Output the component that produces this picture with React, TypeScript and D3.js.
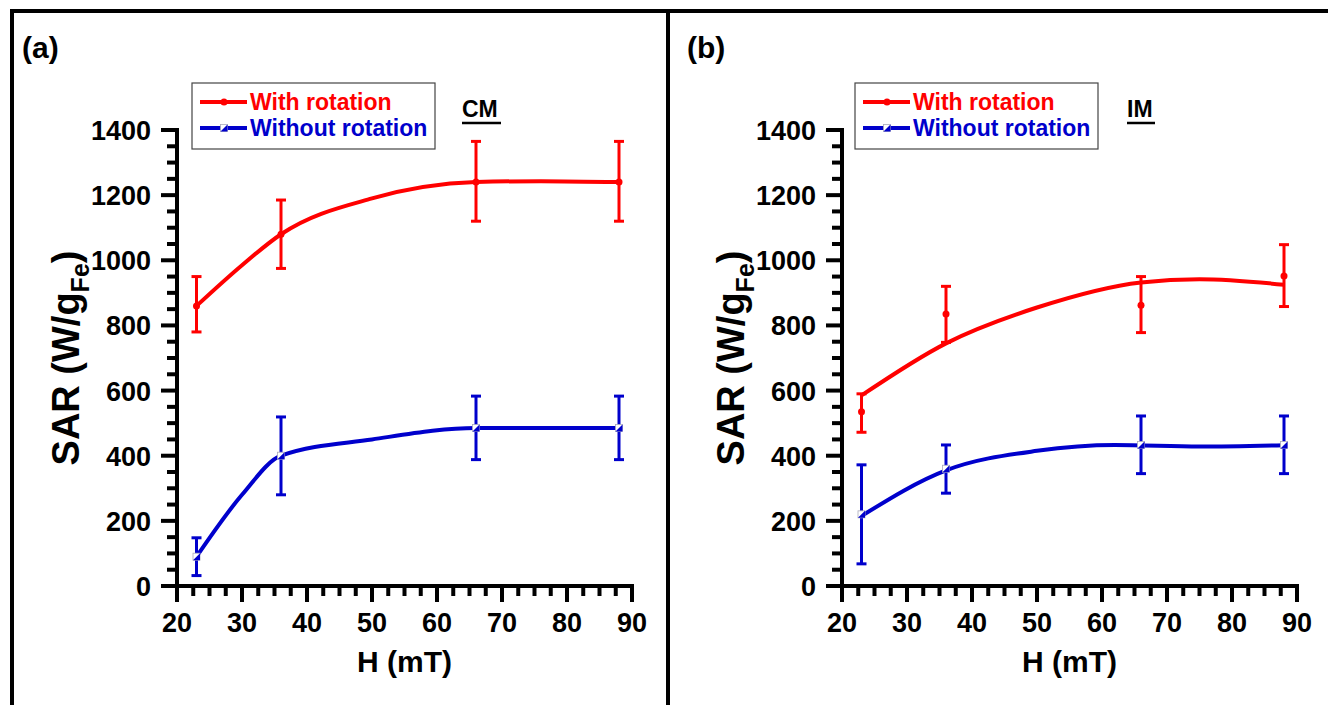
import React from "react";
import * as d3 from "d3";

// ---- data ----
const H = [23, 36, 66, 88];

// Panel (a) CM
const rotA = [860, 1080, 1240, 1240];
const rotALo = [780, 975, 1120, 1120];
const rotAHi = [950, 1185, 1365, 1365];
const noRotA = [90, 400, 485, 485];
const noRotALo = [32, 280, 388, 388];
const noRotAHi = [148, 519, 583, 583];
const fitRotAH = [23, 30, 36, 50, 66, 76, 88];
const fitRotAV = [860, 985, 1080, 1190, 1240, 1243, 1240];
const fitNoRotAH = [23, 30, 36, 50, 66, 88];
const fitNoRotAV = [90, 280, 400, 450, 485, 485];

// Panel (b) IM
const rotB = [535, 835, 862, 952];
const rotBLo = [472, 748, 778, 858];
const rotBHi = [590, 920, 950, 1048];
const noRotB = [220, 360, 433, 433];
const noRotBLo = [68, 285, 345, 345];
const noRotBHi = [372, 433, 522, 522];
const fitRotBH = [23, 36, 50, 66, 75, 88];
const fitRotBV = [585, 745, 855, 932, 942, 925];
const fitNoRotBH = [23, 36, 50, 62, 75, 88];
const fitNoRotBV = [215, 355, 415, 433, 428, 432];

const xMajor = [20, 30, 40, 50, 60, 70, 80, 90];
const yMajor = [0, 200, 400, 600, 800, 1000, 1200, 1400];
const legendLabels = ["With rotation", "Without rotation"];

const RED = "#ff0000";
const BLUE = "#0000cc";
const FONT = "Arial, 'Liberation Sans', sans-serif";

type Series = {
  v: number[]; lo: number[]; hi: number[];
  fh: number[]; fv: number[]; color: string; marker: "circle" | "square";
};

function Marker({ x, y, kind, color }: { x: number; y: number; kind: string; color: string }) {
  if (kind === "circle") return <circle cx={x} cy={y} r={3.5} fill={color} />;
  return (
    <g>
      <rect x={x - 3.5} y={y - 3.5} width={7} height={7} fill="#ffffff" stroke="#aab" strokeWidth={0.8} />
      <path d={`M${x + 3.5},${y - 3.5} L${x + 3.5},${y + 3.5} L${x - 3.5},${y + 3.5} Z`} fill={color} />
    </g>
  );
}

function Panel({ x0, label, tag, tagX, legendX, series }: {
  x0: number; label: string; tag: string; tagX: number; legendX: number; series: Series[];
}) {
  const x = d3.scaleLinear().domain([20, 90]).range([x0, x0 + 455]);
  const y = d3.scaleLinear().domain([0, 1400]).range([586, 130]);
  const xMinor = d3.range(20, 90.01, 2.5).filter((t) => !xMajor.includes(t));
  const yMinor = d3.range(0, 1400.01, 50).filter((t) => !yMajor.includes(t));
  const line = d3.line<[number, number]>().x((d) => x(d[0])).y((d) => y(d[1])).curve(d3.curveMonotoneX);
  const y0 = y(0);
  const x1 = x(90);
  return (
    <g>
      <text x={x0 - 155} y={58} fontFamily={FONT} fontWeight="bold" fontSize={30}>{label}</text>
      {/* axes */}
      <line x1={x0} y1={y(1400)} x2={x0} y2={y0} stroke="#000" strokeWidth={4} strokeLinecap="square" />
      <line x1={x0} y1={y0} x2={x1} y2={y0} stroke="#000" strokeWidth={4} strokeLinecap="square" />
      {xMajor.map((t) => (
        <g key={"xm" + t}>
          <line x1={x(t)} x2={x(t)} y1={y0} y2={y0 + 16} stroke="#000" strokeWidth={4} />
          <text x={x(t)} y={y0 + 46} textAnchor="middle" fontFamily={FONT} fontWeight="bold" fontSize={27}>{t}</text>
        </g>
      ))}
      {xMinor.map((t) => (
        <line key={"xn" + t} x1={x(t)} x2={x(t)} y1={y0} y2={y0 + 10} stroke="#000" strokeWidth={4} />
      ))}
      {yMajor.map((t) => (
        <g key={"ym" + t}>
          <line x1={x0 - 16} x2={x0} y1={y(t)} y2={y(t)} stroke="#000" strokeWidth={4} />
          <text x={x0 - 26} y={y(t) + 10} textAnchor="end" fontFamily={FONT} fontWeight="bold" fontSize={27}>{t}</text>
        </g>
      ))}
      {yMinor.map((t) => (
        <line key={"yn" + t} x1={x0 - 10} x2={x0} y1={y(t)} y2={y(t)} stroke="#000" strokeWidth={4} />
      ))}
      <text x={(x0 + x1) / 2} y={672} textAnchor="middle" fontFamily={FONT} fontWeight="bold" fontSize={30}>H (mT)</text>
      <text transform={`translate(${x0 - 98},${(y(0) + y(1400)) / 2}) rotate(-90)`} textAnchor="middle"
        fontFamily={FONT} fontWeight="bold" fontSize={38}>
        SAR (W/g<tspan fontSize={25} dy={10}>Fe</tspan><tspan dy={-10}>)</tspan>
      </text>
      {/* series */}
      {series.map((s, si) => (
        <g key={"s" + si}>
          <path d={line(s.fh.map((h, i) => [h, s.fv[i]] as [number, number])) || ""} fill="none" stroke={s.color} strokeWidth={4} />
          {H.map((h, i) => (
            <g key={i}>
              <line x1={x(h)} x2={x(h)} y1={y(s.lo[i])} y2={y(s.hi[i])} stroke={s.color} strokeWidth={3} />
              <line x1={x(h) - 5} x2={x(h) + 5} y1={y(s.lo[i])} y2={y(s.lo[i])} stroke={s.color} strokeWidth={3} />
              <line x1={x(h) - 5} x2={x(h) + 5} y1={y(s.hi[i])} y2={y(s.hi[i])} stroke={s.color} strokeWidth={3} />
              <Marker x={x(h)} y={y(s.v[i])} kind={s.marker} color={s.color} />
            </g>
          ))}
        </g>
      ))}
      {/* legend */}
      <rect x={legendX} y={83} width={243} height={66} fill="#fff" stroke="#444" strokeWidth={1.2} />
      {series.map((s, si) => (
        <g key={"l" + si}>
          <line x1={legendX + 8} x2={legendX + 55} y1={102 + si * 26} y2={102 + si * 26} stroke={s.color} strokeWidth={4} />
          <Marker x={legendX + 32} y={102 + si * 26} kind={s.marker} color={s.color} />
          <text x={legendX + 58} y={110 + si * 26} fill={s.color} fontFamily={FONT} fontWeight="bold" fontSize={23}>{legendLabels[si]}</text>
        </g>
      ))}
      <text x={tagX} y={117} fontFamily={FONT} fontWeight="bold" fontSize={23}>{tag}</text>
      <line x1={tagX} x2={tagX + (tag === "CM" ? 39 : 28)} y1={123} y2={123} stroke="#000" strokeWidth={2.5} />
    </g>
  );
}

export default function App() {
  const seriesA: Series[] = [
    { v: rotA, lo: rotALo, hi: rotAHi, fh: fitRotAH, fv: fitRotAV, color: RED, marker: "circle" },
    { v: noRotA, lo: noRotALo, hi: noRotAHi, fh: fitNoRotAH, fv: fitNoRotAV, color: BLUE, marker: "square" },
  ];
  const seriesB: Series[] = [
    { v: rotB, lo: rotBLo, hi: rotBHi, fh: fitRotBH, fv: fitRotBV, color: RED, marker: "circle" },
    { v: noRotB, lo: noRotBLo, hi: noRotBHi, fh: fitNoRotBH, fv: fitNoRotBV, color: BLUE, marker: "square" },
  ];
  return (
    <svg width={1328} height={705} style={{ position: "absolute", left: 0, top: 0, background: "#fff" }}>
      <rect x={0} y={0} width={1328} height={705} fill="#fff" />
      <line x1={10} x2={1328} y1={11} y2={11} stroke="#000" strokeWidth={4} />
      <line x1={12} x2={12} y1={9} y2={705} stroke="#000" strokeWidth={4} />
      <line x1={668} x2={668} y1={9} y2={705} stroke="#000" strokeWidth={4} />
      <Panel x0={177} label="(a)" tag="CM" tagX={462} legendX={192} series={seriesA} />
      <Panel x0={842} label="(b)" tag="IM" tagX={1127} legendX={855} series={seriesB} />
    </svg>
  );
}
